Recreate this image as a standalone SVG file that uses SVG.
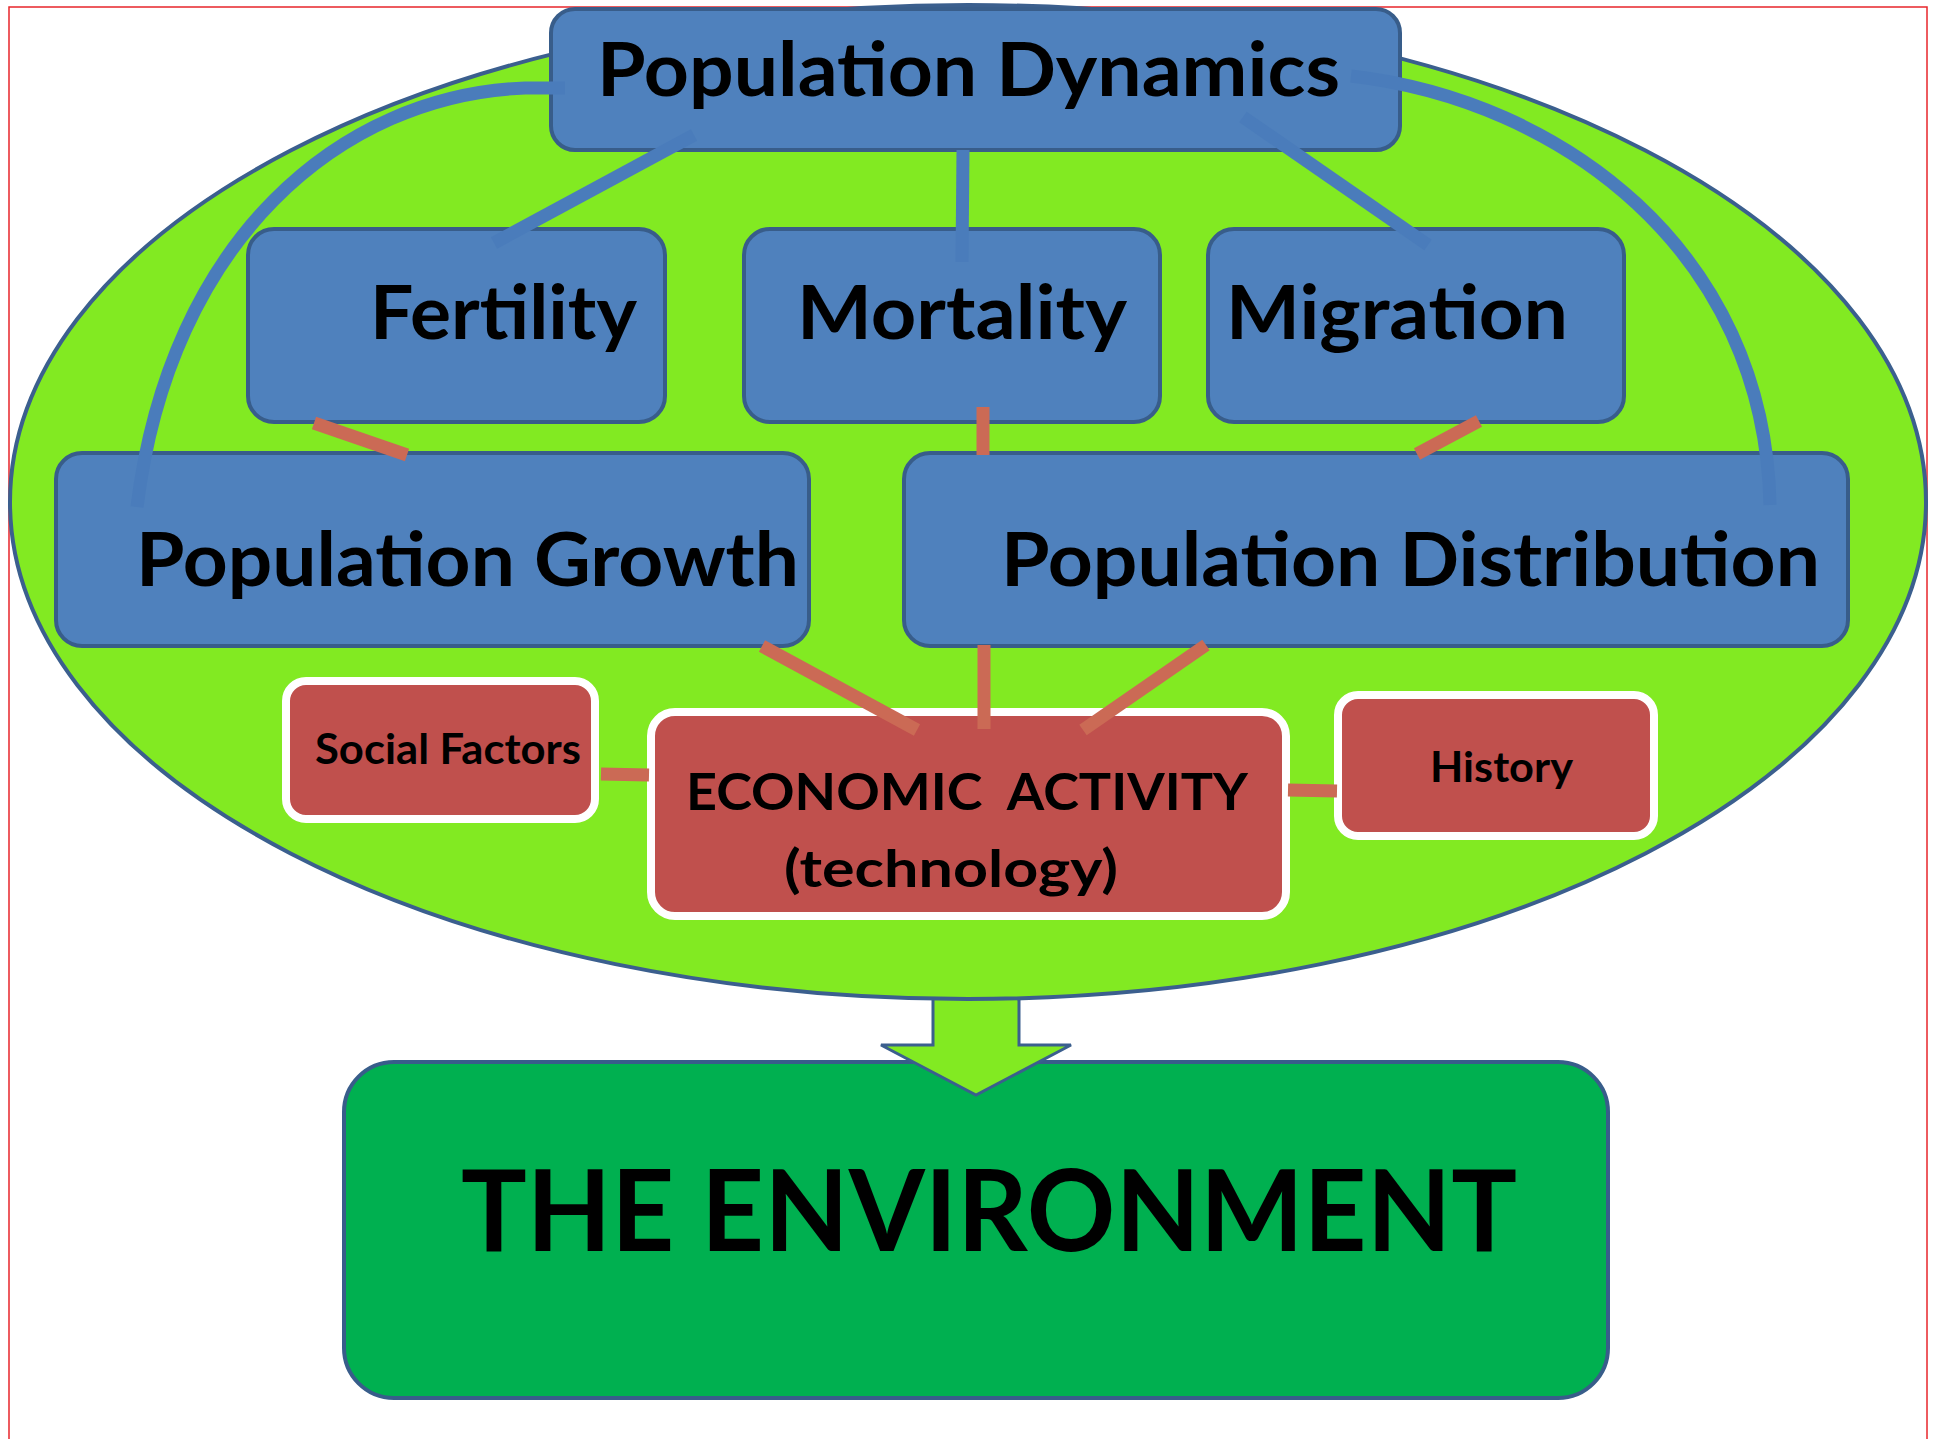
<svg xmlns="http://www.w3.org/2000/svg" width="1937" height="1439" viewBox="0 0 1937 1439">
<style>
.bg{fill:#FFFFFF}
.frame{fill:none;stroke:#E8262B;stroke-width:1.5}
.oval{fill:#82EA22;stroke:#3B5F8E;stroke-width:4}
.blue{fill:#4F81BD;stroke:#385D8A;stroke-width:4}
.red{fill:#C0504D;stroke:#FFFFFF;stroke-width:8}
.env{fill:#00B050;stroke:#385D8A;stroke-width:4}
.arrow{fill:#82EA22;stroke:#3B5F8E;stroke-width:3;stroke-linejoin:miter}
.bl{fill:none;stroke:#4A7CBB;stroke-width:13}
.rl{fill:none;stroke:#CB6A55;stroke-width:13}
text{font-family:"Lato","Open Sans","Liberation Sans",sans-serif;font-weight:bold;fill:#000000}
.big{font-size:75px}
.sm{font-size:42px}
.mid{font-size:52px}
.huge{font-size:113px}
</style>
<rect class="bg" x="0" y="0" width="1937" height="1439"/>
<rect class="frame" x="9" y="7" width="1918" height="1440"/>

<g id="environment">
<rect class="env" x="344" y="1062" width="1264" height="336" rx="50" ry="50"/>
<text class="huge" x="461" y="1251" textLength="1056" lengthAdjust="spacingAndGlyphs">THE ENVIRONMENT</text>
</g>

<g id="arrow">
<polygon class="arrow" points="933,985 1019,985 1019,1045 1071,1045 976,1095 881,1045 933,1045"/>
</g>

<g id="oval">
<ellipse class="oval" cx="968" cy="502" rx="958" ry="497"/>
</g>

<g id="pop-dynamics">
<rect class="blue" x="551" y="9" width="849" height="141" rx="24" ry="24"/>
<text class="big" x="597" y="96" textLength="743" lengthAdjust="spacingAndGlyphs">Population Dynamics</text>
</g>

<g id="fertility">
<rect class="blue" x="248" y="229" width="417" height="193" rx="26" ry="26"/>
<text class="big" x="370" y="339" textLength="267" lengthAdjust="spacingAndGlyphs">Fertility</text>
</g>

<g id="mortality">
<rect class="blue" x="744" y="229" width="416" height="193" rx="26" ry="26"/>
<text class="big" x="797" y="339" textLength="330" lengthAdjust="spacingAndGlyphs">Mortality</text>
</g>

<g id="migration">
<rect class="blue" x="1208" y="229" width="416" height="193" rx="26" ry="26"/>
<text class="big" x="1226" y="339" textLength="342" lengthAdjust="spacingAndGlyphs">Migration</text>
</g>

<g id="pop-growth">
<rect class="blue" x="56" y="453" width="753" height="193" rx="26" ry="26"/>
<text class="big" x="136" y="586" textLength="663" lengthAdjust="spacingAndGlyphs">Population Growth</text>
</g>

<g id="pop-distribution">
<rect class="blue" x="904" y="453" width="944" height="193" rx="26" ry="26"/>
<text class="big" x="1001" y="586" textLength="819" lengthAdjust="spacingAndGlyphs">Population Distribution</text>
</g>

<g id="social-factors">
<rect class="red" x="286" y="681" width="309" height="138" rx="20" ry="20"/>
<text class="sm" x="315" y="764" textLength="266" lengthAdjust="spacingAndGlyphs">Social Factors</text>
</g>

<g id="economic-activity">
<rect class="red" x="651" y="712" width="635" height="204" rx="24" ry="24"/>
<text class="mid" x="686" y="810" textLength="562" lengthAdjust="spacingAndGlyphs" xml:space="preserve">ECONOMIC  ACTIVITY</text>
<text class="mid" x="784" y="887" textLength="334" lengthAdjust="spacingAndGlyphs">(technology)</text>
</g>

<g id="history">
<rect class="red" x="1338" y="695" width="316" height="141" rx="20" ry="20"/>
<text class="sm" x="1430" y="782" textLength="143" lengthAdjust="spacingAndGlyphs">History</text>
</g>

<g id="connectors">
<path class="bl" d="M694,135 L494,243"/>
<path class="bl" d="M963,150 L962,262"/>
<path class="bl" d="M1243,117 L1428,245"/>
<path class="bl" d="M565,88 L525,88 C340,95 170,240 137,507"/>
<path class="bl" d="M1351,76 C1560,100 1765,250 1770,505"/>
<path class="rl" d="M314,423 L407,455"/>
<path class="rl" d="M983,407 L983,455"/>
<path class="rl" d="M1479,421 L1417,454"/>
<path class="rl" d="M762,646 L917,730"/>
<path class="rl" d="M984,645 L984,729"/>
<path class="rl" d="M1206,645 L1083,730"/>
<path class="rl" d="M601,774 L649,775"/>
<path class="rl" d="M1288,790 L1337,791"/>
</g>
</svg>
